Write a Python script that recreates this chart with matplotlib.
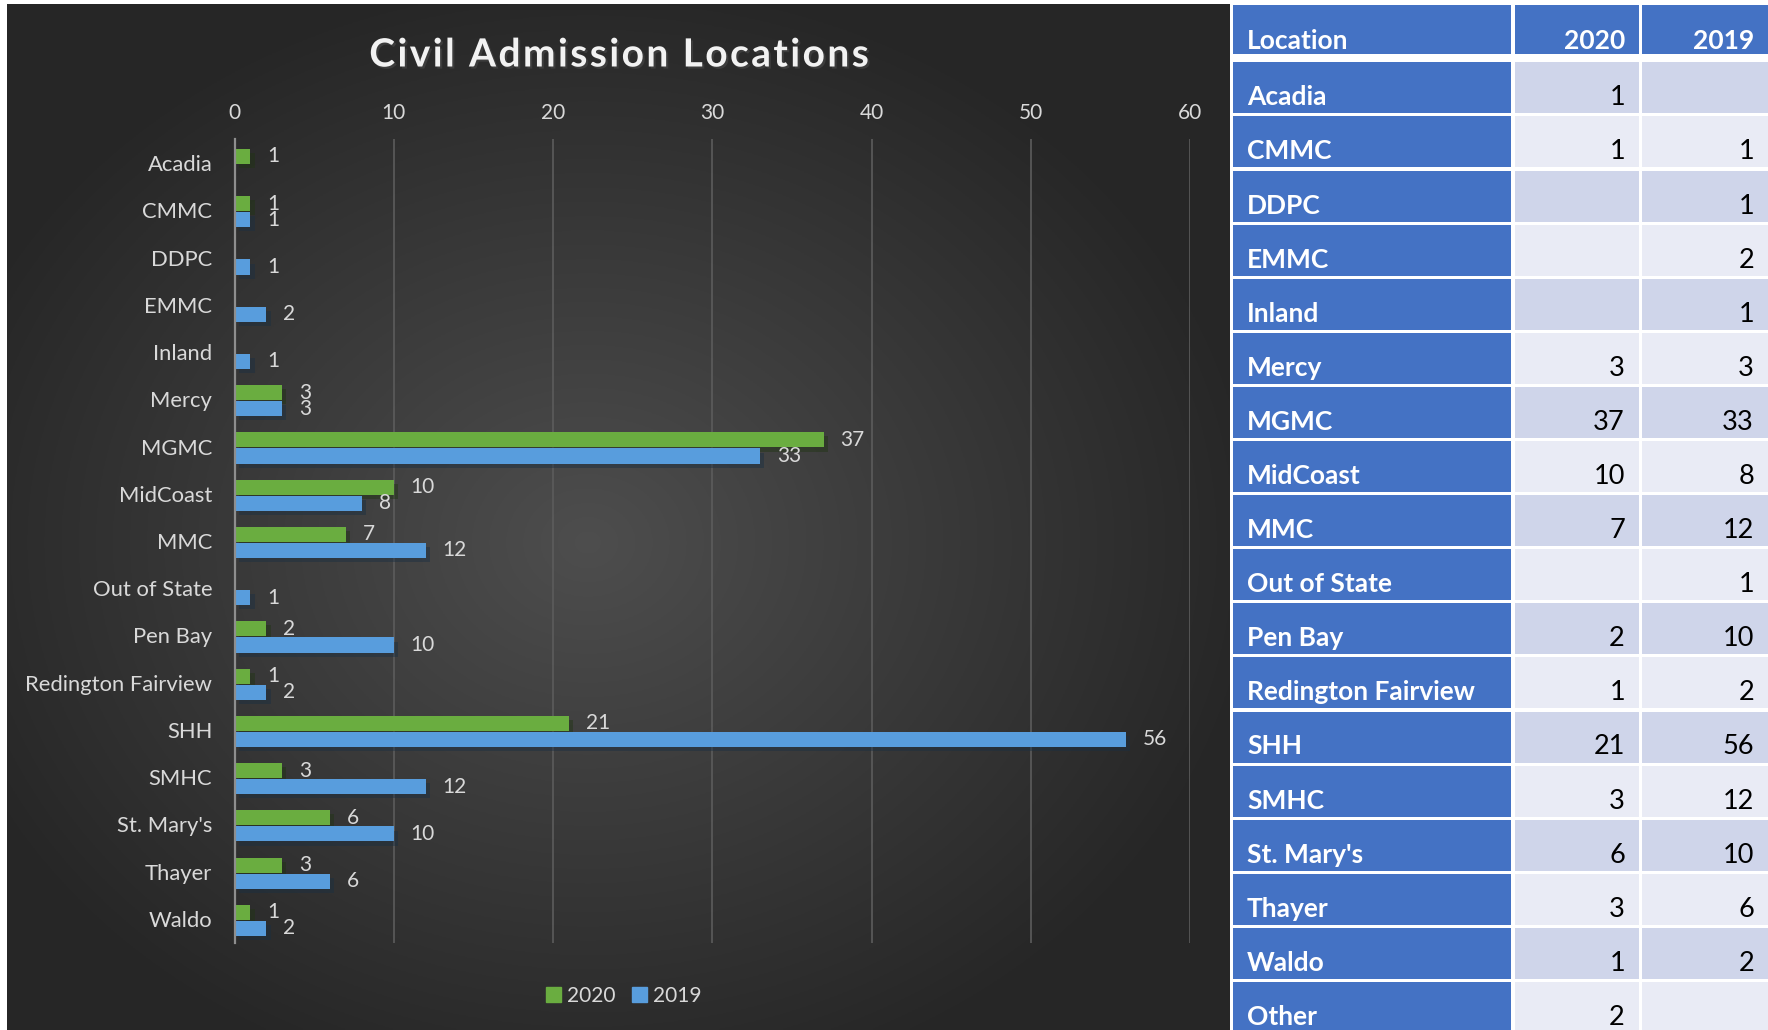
import matplotlib
matplotlib.use("Agg")
import matplotlib.pyplot as plt  # noqa: E402
import matplotlib.patheffects as pe  # noqa: E402
from matplotlib.patches import Patch, Rectangle  # noqa: E402
import numpy as np  # noqa: E402

# --- data -------------------------------------------------------------
locations = [
    "Acadia", "CMMC", "DDPC", "EMMC", "Inland", "Mercy", "MGMC", "MidCoast",
    "MMC", "Out of State", "Pen Bay", "Redington Fairview", "SHH", "SMHC",
    "St. Mary's", "Thayer", "Waldo",
]
adm_2020 = [1, 1, None, None, None, 3, 37, 10, 7, None, 2, 1, 21, 3, 6, 3, 1]
adm_2019 = [None, 1, 1, 2, 1, 3, 33, 8, 12, 1, 10, 2, 56, 12, 10, 6, 2]

table_locations = locations + ["Other"]
table_2020 = adm_2020 + [2]
table_2019 = adm_2019 + [None]
series_names = ["2020", "2019"]
title = "Civil Admission Locations"

# --- style ------------------------------------------------------------
W, H = 1768, 1030
FONT = "Lato"
GREEN = "#6aad40"
BLUE = "#589ddd"
TXT = "#d9d9d9"
TBL_BLUE = "#4472c4"
ROW_A = "#cfd5ea"
ROW_B = "#e9ebf5"

plt.rcParams["font.family"] = [FONT, "DejaVu Sans"]

fig = plt.figure(figsize=(W / 100, H / 100), dpi=100)
fig.patch.set_facecolor("white")


def fig_rect(x0, y0, x1, y1):
    # pixel box (top-left origin) -> figure fraction rect
    return [x0 / W, 1 - y1 / H, (x1 - x0) / W, (y1 - y0) / H]


# dark radial-gradient panel behind the chart
bg = fig.add_axes(fig_rect(7, 4, 1230, H))
yy, xx = np.mgrid[-1:1:400j, -1:1:600j]
r = np.sqrt((xx + 0.05) ** 2 + (yy - 0.05) ** 2)
shade = np.clip(0.305 - 0.14 * r, 0.15, 0.305)
bg.imshow(np.dstack([shade] * 3), aspect="auto", extent=[0, 1, 0, 1])
bg.axis("off")

# --- bar chart ---------------------------------------------------------
ax = fig.add_axes(fig_rect(234.5, 139.4, 1190, 942.6))
ax.set_facecolor("none")
y = np.arange(len(locations))
bar_h = 0.32
shadow = [pe.SimplePatchShadow(offset=(3, -3), alpha=0.45), pe.Normal()]

for vals, off, color in [(adm_2020, -0.14, GREEN), (adm_2019, 0.2, BLUE)]:
    idx = [i for i, v in enumerate(vals) if v is not None]
    v = [vals[i] for i in idx]
    bars = ax.barh(y[idx] + off, v, height=bar_h, color=color, zorder=3)
    for b in bars:
        b.set_path_effects(shadow)
    ax.bar_label(bars, labels=[str(x) for x in v], padding=12,
                 color=TXT, fontsize=15, zorder=4)

ax.set_xlim(0, 60)
ax.set_ylim(len(locations) - 0.5, -0.5)
ax.set_xticks(range(0, 61, 10))
ax.set_yticks(y)
ax.set_yticklabels(locations)
ax.xaxis.tick_top()
ax.tick_params(axis="x", length=0, pad=12, labelsize=15, labelcolor=TXT)
ax.tick_params(axis="y", length=0, pad=16, labelsize=15.8, labelcolor=TXT)
ax.grid(axis="x", color="#5c5c5c", linewidth=1.2, zorder=0)
for s in ["top", "right", "bottom"]:
    ax.spines[s].set_visible(False)
ax.spines["left"].set_color("#8e8e8e")
ax.spines["left"].set_linewidth(1.6)
ax.spines["left"].set_zorder(5)

# letter-spaced title (hair spaces between the characters)
fig.text(618 / W, 1 - 55 / H, "\u200a".join(title), ha="center",
         va="center", fontsize=28, fontweight="bold", color="#f2f2f2",
         path_effects=[pe.SimplePatchShadow(offset=(1.5, -1.5), alpha=0.6),
                       pe.Normal()])

handles = [Patch(color=GREEN), Patch(color=BLUE)]
fig.legend(handles, series_names, loc="center", bbox_to_anchor=(624 / W, 1 - 996 / H),
           ncol=2, frameon=False, fontsize=15, labelcolor=TXT,
           handlelength=0.7, handleheight=0.7, handletextpad=0.3,
           columnspacing=0.8)

# --- data table ------------------------------------------------------------
tax = fig.add_axes(fig_rect(1231, 0, W, H))
tax.set_xlim(0, W - 1231)
tax.set_ylim(H, 0)
tax.axis("off")

col_x = [(2, 280), (283.5, 408), (411, 537)]
header_top, header_bot = 5, 54
row_top0, row_pitch, row_h = 62.3, 54.1, 51
tsize = 19

for (x0, x1), name in zip(col_x, ["Location"] + series_names):
    tax.add_patch(Rectangle((x0, header_top), x1 - x0, header_bot - header_top,
                            color=TBL_BLUE, lw=0))
    if name == "Location":
        tax.text(x0 + 14, header_bot - 5, name, ha="left", va="baseline",
                 fontsize=tsize, fontweight="bold", color="white")
    else:
        tax.text(x1 - 14, header_bot - 5, name, ha="right", va="baseline",
                 fontsize=tsize, fontweight="bold", color="white")

for i, (loc, a, b) in enumerate(zip(table_locations, table_2020, table_2019)):
    top = row_top0 + i * row_pitch
    base = top + row_h - 8
    fill = ROW_A if i % 2 == 0 else ROW_B
    for j, (x0, x1) in enumerate(col_x):
        tax.add_patch(Rectangle((x0, top), x1 - x0, row_h,
                                color=TBL_BLUE if j == 0 else fill, lw=0))
    tax.text(col_x[0][0] + 14, base, loc, ha="left", va="baseline",
             fontsize=tsize, fontweight="bold", color="white")
    for (x0, x1), v in zip(col_x[1:], [a, b]):
        if v is not None:
            tax.text(x1 - 14, base, str(v), ha="right", va="baseline",
                     fontsize=tsize + 0.5, color="black")

fig.savefig("out.png", dpi=100, facecolor=fig.get_facecolor())
